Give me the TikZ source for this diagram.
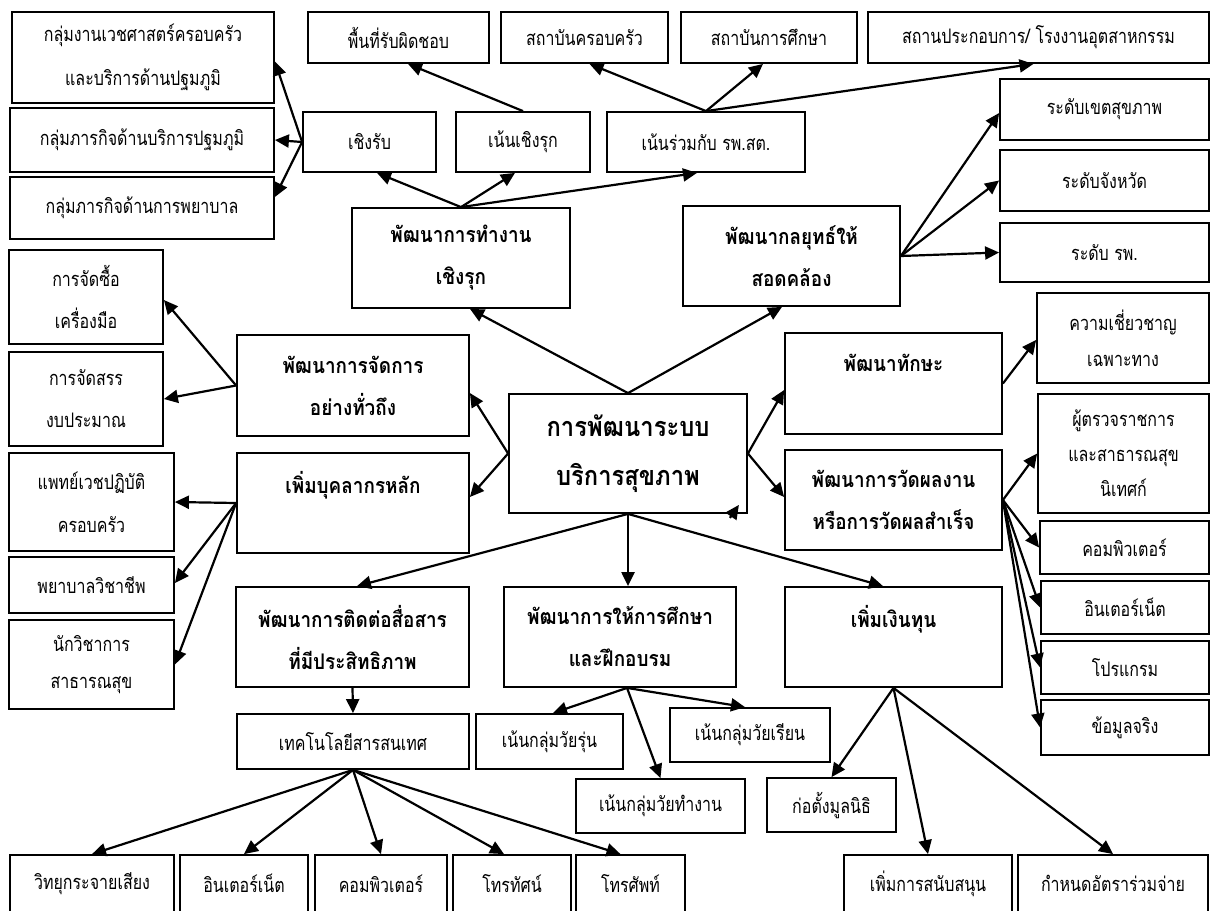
\documentclass[tikz,border=0pt]{standalone}
\usepackage{fontspec}
\setmainfont[Script=Thai, UprightFeatures={FakeStretch=0.8}, BoldFeatures={FakeStretch=0.88}]{Loma}
\usetikzlibrary{arrows.meta}

\begin{document}
\begin{tikzpicture}[x=1pt,y=-1pt,
    box/.style={draw, line width=1.8pt, inner sep=0pt, align=center, font=\fontsize{20}{40}\selectfont},
    mainbox/.style={box, font=\bfseries\fontsize{21.5}{42}\selectfont},
    arr/.style={-{Triangle[length=14pt,width=13pt]}, line width=2.2pt}]

    % Frame
    \useasboundingbox (0,0) rectangle (1214,910);
    \clip (0,0) rectangle (1214,910);

    % Centre
    \node[mainbox, font=\bfseries\fontsize{27}{49}\selectfont, minimum width=238pt, minimum height=119pt] (center) at (628,453.5) {การพัฒนาระบบ\\บริการสุขภาพ};

    % Main branches
    \node[mainbox, minimum width=218pt, minimum height=100pt] (work) at (461,258) {พัฒนาการทำงาน\\เชิงรุก};
    \node[mainbox, minimum width=217pt, minimum height=100pt] (strategy) at (791.5,256) {พัฒนากลยุทธ์ให้\\สอดคล้อง};
    \node[mainbox, minimum width=232pt, minimum height=101pt] (manage) at (353,385.5) {พัฒนาการจัดการ\\อย่างทั่วถึง};
    \node[mainbox, minimum width=232pt, minimum height=100pt] (staff) at (353,503) {เพิ่มบุคลากรหลัก\\\mbox{}};
    \node[mainbox, minimum width=217pt, minimum height=101pt] (skill) at (893.5,383.5) {พัฒนาทักษะ\\\mbox{}};
    \node[mainbox, minimum width=217pt, minimum height=100pt] (measure) at (893.5,500) {พัฒนาการวัดผลงาน\\หรือการวัดผลสำเร็จ};
    \node[mainbox, minimum width=233pt, minimum height=100pt] (comm) at (352.5,637) {พัฒนาการติดต่อสื่อสาร\\ที่มีประสิทธิภาพ};
    \node[mainbox, minimum width=232pt, minimum height=100pt] (edu) at (620,637) {พัฒนาการให้การศึกษา\\และฝึกอบรม};
    \node[mainbox, minimum width=217pt, minimum height=100pt] (fund) at (893.5,637) {เพิ่มเงินทุน\\\mbox{}};

    % Proactive work
    \node[box, minimum width=133pt, minimum height=60pt] (passive) at (369.5,142) {เชิงรับ};
    \node[box, minimum width=134pt, minimum height=60pt] (proactive) at (523,142) {เน้นเชิงรุก};
    \node[box, minimum width=198pt, minimum height=60pt] (joint) at (706,142) {เน้นร่วมกับ รพ.สต.};
    \node[box, minimum width=181pt, minimum height=51pt] (area) at (398.5,37.5) {พื้นที่รับผิดชอบ};
    \node[box, minimum width=167pt, minimum height=51pt] (family) at (584.5,37.5) {สถาบันครอบครัว};
    \node[box, minimum width=176pt, minimum height=51pt] (school) at (769,37.5) {สถาบันการศึกษา};
    \node[box, minimum width=341pt, minimum height=51pt] (factory) at (1038.5,37.5) {สถานประกอบการ/ โรงงานอุตสาหกรรม};
    \node[box, font=\fontsize{20}{44}\selectfont, minimum width=262pt, minimum height=91pt] (gVech) at (143,57.5) {กลุ่มงานเวชศาสตร์ครอบครัว\\และบริการด้านปฐมภูมิ};
    \node[box, minimum width=264pt, minimum height=64pt] (gPrimary) at (142,140) {กลุ่มภารกิจด้านบริการปฐมภูมิ};
    \node[box, minimum width=264pt, minimum height=62pt] (gNurse) at (142,208) {กลุ่มภารกิจด้านการพยาบาล};

    % Strategy levels
    \node[box, minimum width=209pt, minimum height=61pt] (lvRegion) at (1104.5,109.5) {ระดับเขตสุขภาพ};
    \node[box, minimum width=209pt, minimum height=61pt] (lvProv) at (1104.5,180.5) {ระดับจังหวัด};
    \node[box, minimum width=209pt, minimum height=59pt] (lvHosp) at (1104.5,252.5) {ระดับ รพ.};

    % Management and staff
    \node[box, font=\fontsize{20}{42}\selectfont, minimum width=154pt, minimum height=94pt] (buy) at (86,297) {การจัดซื้อ\\เครื่องมือ};
    \node[box, font=\fontsize{20}{42}\selectfont, minimum width=154pt, minimum height=94pt] (budget) at (86,399) {การจัดสรร\\งบประมาณ};
    \node[box, font=\fontsize{20}{43}\selectfont, minimum width=165pt, minimum height=98pt] (doctor) at (91.5,502) {แพทย์เวชปฏิบัติ\\ครอบครัว};
    \node[box, minimum width=165pt, minimum height=56pt] (nurse) at (91.5,585) {พยาบาลวิชาชีพ};
    \node[box, font=\fontsize{20}{37}\selectfont, minimum width=165pt, minimum height=89pt] (health) at (91.5,664.5) {นักวิชาการ\\สาธารณสุข};

    % Skill and measurement
    \node[box, font=\fontsize{20}{36}\selectfont, minimum width=172pt, minimum height=90pt] (expert) at (1123,338) {ความเชี่ยวชาญ\\เฉพาะทาง};
    \node[box, font=\fontsize{20}{35}\selectfont, minimum width=171pt, minimum height=119pt] (inspector) at (1123.5,453.5) {ผู้ตรวจราชการ\\และสาธารณสุข\\นิเทศก์};
    \node[box, minimum width=169pt, minimum height=53pt] (mComp) at (1124.5,547.5) {คอมพิวเตอร์};
    \node[box, minimum width=168pt, minimum height=53pt] (mNet) at (1125,607.5) {อินเตอร์เน็ต};
    \node[box, minimum width=168pt, minimum height=53pt] (mProg) at (1125,667.5) {โปรแกรม};
    \node[box, minimum width=168pt, minimum height=55pt] (mData) at (1125,727.5) {ข้อมูลจริง};

    % Communication
    \node[box, minimum width=232pt, minimum height=55pt] (ict) at (353,741.5) {เทคโนโลยีสารสนเทศ};
    \node[box, minimum width=164pt, minimum height=57pt] (radio) at (92,883.5) {วิทยุกระจายเสียง};
    \node[box, minimum width=128pt, minimum height=57pt] (iNet) at (244,883.5) {อินเตอร์เน็ต};
    \node[box, minimum width=132pt, minimum height=57pt] (iComp) at (381,883.5) {คอมพิวเตอร์};
    \node[box, minimum width=118pt, minimum height=57pt] (tv) at (512,883.5) {โทรทัศน์};
    \node[box, minimum width=109pt, minimum height=57pt] (phone) at (630.5,883.5) {โทรศัพท์};

    % Education
    \node[box, minimum width=147pt, minimum height=55pt] (teen) at (549.5,741.5) {เน้นกลุ่มวัยรุ่น};
    \node[box, minimum width=160pt, minimum height=54pt] (schoolAge) at (750,735) {เน้นกลุ่มวัยเรียน};
    \node[box, minimum width=169pt, minimum height=54pt] (workAge) at (660.5,806) {เน้นกลุ่มวัยทำงาน};

    % Funding
    \node[box, minimum width=129pt, minimum height=54pt] (found) at (831.5,805) {ก่อตั้งมูลนิธิ};
    \node[box, minimum width=168pt, minimum height=57pt] (support) at (928,883.5) {เพิ่มการสนับสนุน};
    \node[box, minimum width=190pt, minimum height=57pt] (copay) at (1113,883.5) {กำหนดอัตราร่วมจ่าย};

    % Arrows from the centre
    \draw[arr] (center.north) -- ([xshift=9pt]work.south);
    \draw[arr] (center.north) -- ([xshift=-9.5pt]strategy.south);
    \draw[arr] (center.west) -- ([yshift=-7.5pt]manage.east);
    \draw[arr] (center.west) -- ([yshift=6pt]staff.east);
    \draw[arr] (center.east) -- ([yshift=-6.5pt]skill.west);
    \draw[arr] (center.east) -- ([yshift=3pt]measure.west);
    \draw[arr] (center.south) -- ([xshift=4.5pt]comm.north);
    \draw[arr] (center.south) -- ([xshift=8pt]edu.north);
    \draw[arr] (center.south) -- ([xshift=-10.5pt]fund.north);
    \coordinate (strayA) at ([shift={(-18pt,-4pt)}]center.south east);
    \coordinate (strayB) at ([shift={(-9pt,9pt)}]center.south east);
    \draw[arr] (strayA) -- (strayB);

    % Proactive work
    \draw[arr] (work.north) -- ([xshift=7.5pt]passive.south);
    \draw[arr] (work.north) -- ([xshift=-8pt]proactive.south);
    \draw[arr] (work.north) -- ([xshift=-9pt]joint.south);
    \draw[arr] (passive.west) -- ([yshift=-4pt]gVech.east);
    \draw[arr] (passive.west) -- (gPrimary.east);
    \draw[arr] (passive.west) -- ([yshift=11pt]gNurse.east);
    \draw[arr] (proactive.north) -- ([xshift=9.5pt]area.south);
    \draw[arr] (joint.north) -- ([xshift=5pt]family.south);
    \draw[arr] (joint.north) -- ([xshift=-6pt]school.south);
    \draw[arr] (joint.north) -- ([xshift=-5pt]factory.south);

    % Strategy
    \draw[arr] (strategy.east) -- ([yshift=-3.5pt]lvRegion.west);
    \draw[arr] (strategy.east) -- (lvProv.west);
    \draw[arr] (strategy.east) -- (lvHosp.west);

    % Management and staff
    \draw[arr] (manage.west) -- ([yshift=-3pt]buy.east);
    \draw[arr] (manage.west) -- (budget.east);
    \draw[arr] (staff.west) -- (doctor.east);
    \draw[arr] (staff.west) -- ([yshift=2pt]nurse.east);
    \draw[arr] (staff.west) -- (health.east);

    % Skill and measurement
    \draw[arr] (skill.east) -- ([yshift=-2pt]expert.west);
    \draw[arr] (measure.east) -- (inspector.west);
    \draw[arr] (measure.east) -- (mComp.west);
    \draw[arr] (measure.east) -- (mNet.west);
    \draw[arr] (measure.east) -- (mProg.west);
    \draw[arr] (measure.east) -- (mData.west);

    % Communication
    \draw[arr] (comm.south) -- (ict.north);
    \draw[arr] (ict.south) -- (radio.north);
    \draw[arr] (ict.south) -- (iNet.north);
    \draw[arr] (ict.south) -- (iComp.north);
    \draw[arr] (ict.south) -- ([xshift=-8pt]tv.north);
    \draw[arr] (ict.south) -- ([xshift=-10pt]phone.north);

    % Education
    \draw[arr] ([xshift=7pt]edu.south) -- ([xshift=3.5pt]teen.north);
    \draw[arr] ([xshift=7pt]edu.south) -- (workAge.north);
    \draw[arr] ([xshift=7pt]edu.south) -- ([xshift=-5pt]schoolAge.north);

    % Funding
    \draw[arr] (fund.south) -- (found.north);
    \draw[arr] (fund.south) -- (support.north);
    \draw[arr] (fund.south) -- (copay.north);
\end{tikzpicture}
\end{document}
